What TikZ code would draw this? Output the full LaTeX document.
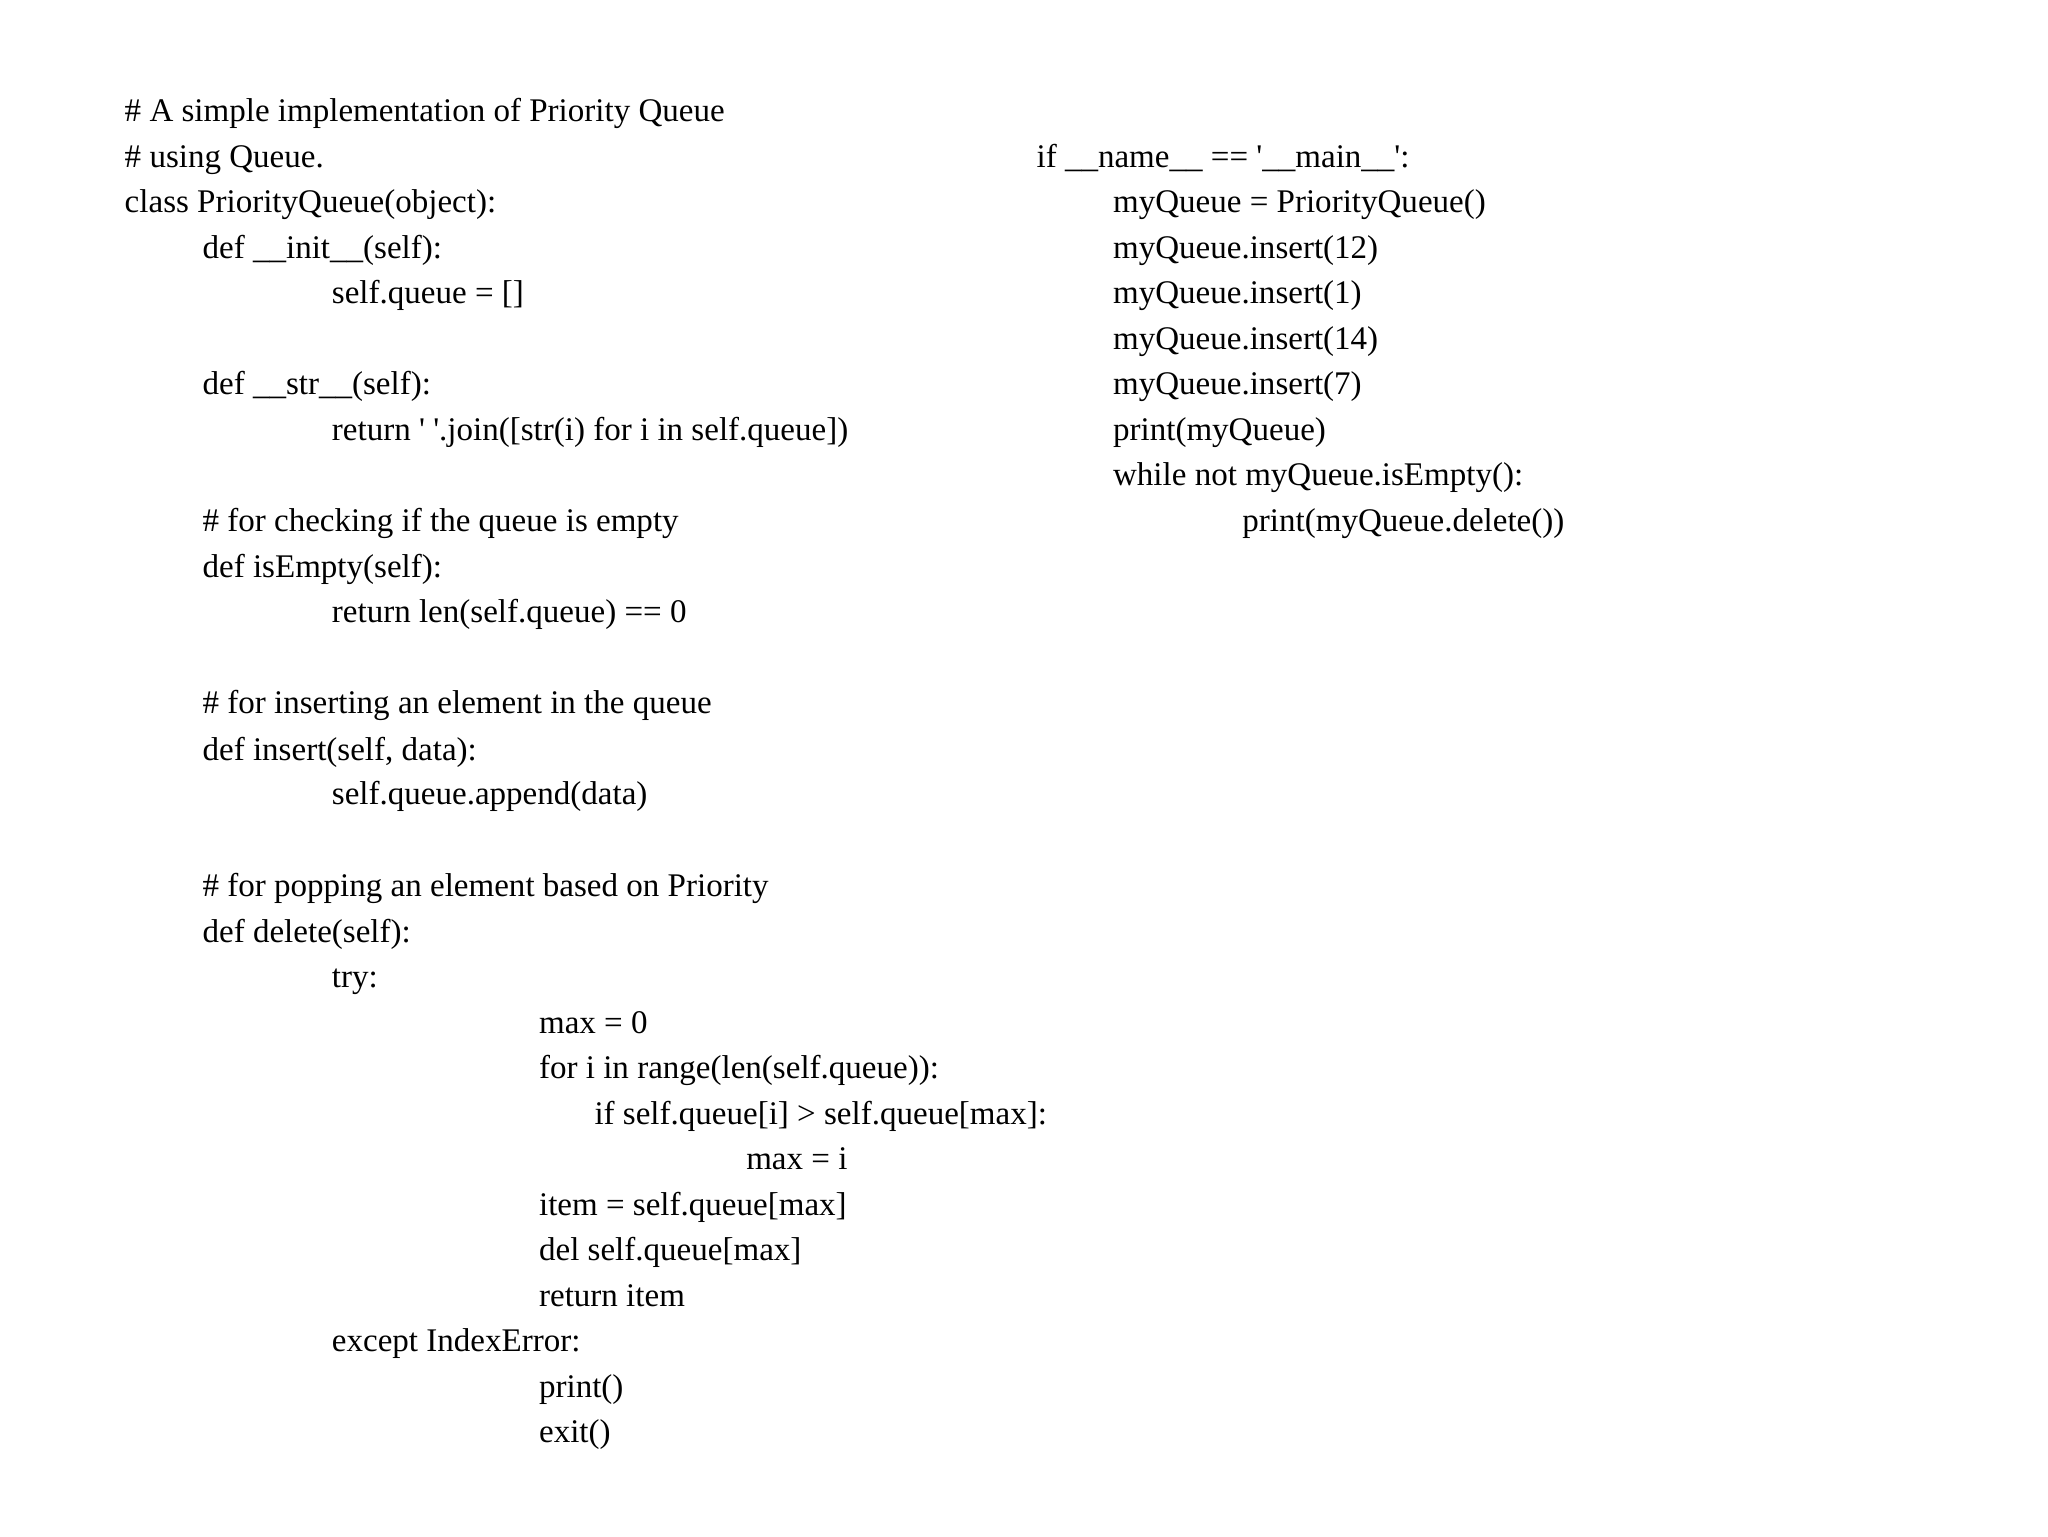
\documentclass[tikz,border=0pt]{standalone}
\usepackage{fontspec}
\setmainfont{Liberation Serif}
\newcommand{\q}{\textquotesingle}
\newcommand{\codeln}[4]{\node[code] (#1) at (#2,#3+8) {#4};}
\begin{document}
\begin{tikzpicture}[x=0.0132cm,y=-0.0132cm,code/.style={anchor=base west,inner sep=0pt,font=\fontsize{9.4pt}{11pt}\selectfont}]
\useasboundingbox (0,0) rectangle (1552,1164);
\codeln{a1}{94}{84}{\# A simple implementation of Priority Queue}
\codeln{a2}{94}{119}{\# using Queue.}
\codeln{a3}{94}{153}{class PriorityQueue(object):}
\codeln{a4}{153}{188}{def \_\_init\_\_(self):}
\codeln{a5}{251}{222}{self.queue = []}
\codeln{a6}{153}{291}{def \_\_str\_\_(self):}
\codeln{a7}{251}{326}{return \q\ \q.join([str(i) for i in self.queue])}
\codeln{a8}{153}{395}{\# for checking if the queue is empty}
\codeln{a9}{153}{430}{def isEmpty(self):}
\codeln{a10}{251}{464}{return len(self.queue) == 0}
\codeln{a11}{153}{533}{\# for inserting an element in the queue}
\codeln{a12}{153}{568}{def insert(self, data):}
\codeln{a13}{251}{602}{self.queue.append(data)}
\codeln{a14}{153}{671}{\# for popping an element based on Priority}
\codeln{a15}{153}{706}{def delete(self):}
\codeln{a16}{251}{740}{try:}
\codeln{a17}{408}{775}{max = 0}
\codeln{a18}{408}{809}{for i in range(len(self.queue)):}
\codeln{a19}{450}{844}{if self.queue[i] > self.queue[max]:}
\codeln{a20}{565}{878}{max = i}
\codeln{a21}{408}{913}{item = self.queue[max]}
\codeln{a22}{408}{947}{del self.queue[max]}
\codeln{a23}{408}{982}{return item}
\codeln{a24}{251}{1016}{except IndexError:}
\codeln{a25}{408}{1051}{print()}
\codeln{a26}{408}{1085}{exit()}
\codeln{b1}{785}{119}{if \_\_name\_\_ == \q\_\_main\_\_\q:}
\codeln{b2}{843}{153}{myQueue = PriorityQueue()}
\codeln{b3}{843}{188}{myQueue.insert(12)}
\codeln{b4}{843}{222}{myQueue.insert(1)}
\codeln{b5}{843}{257}{myQueue.insert(14)}
\codeln{b6}{843}{291}{myQueue.insert(7)}
\codeln{b7}{843}{326}{print(myQueue)}
\codeln{b8}{843}{360}{while not myQueue.isEmpty():}
\codeln{b9}{941}{395}{print(myQueue.delete())}
\end{tikzpicture}
\end{document}
